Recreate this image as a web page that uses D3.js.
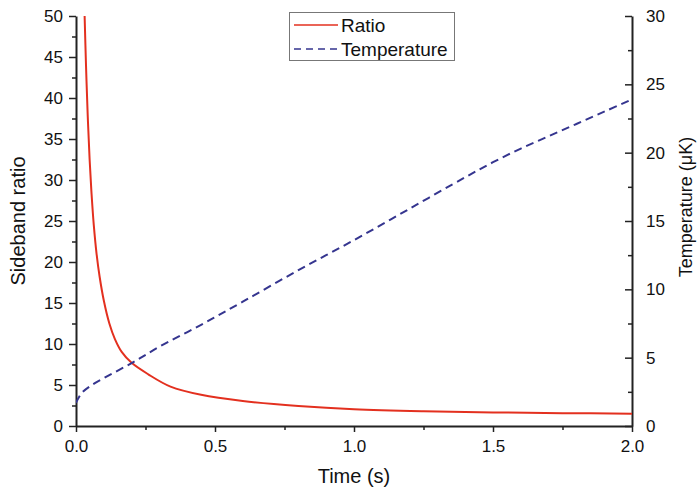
<!DOCTYPE html>
<html>
<head>
<meta charset="utf-8">
<script src="https://cdn.jsdelivr.net/npm/d3@7"></script>
<style>
  html, body { margin: 0; padding: 0; background: #fff; }
  svg { display: block; font-family: "Liberation Sans", Arial, Helvetica, sans-serif; }
</style>
</head>
<body>
<svg id="chart" width="697" height="488"></svg>
<script>
// ---- data ----
const ratioTime  = [0.031, 0.036, 0.042, 0.049, 0.056, 0.064, 0.074, 0.085, 0.1, 0.12, 0.14, 0.165, 0.2, 0.26, 0.34, 0.45, 0.6, 0.8, 1.0, 1.25, 1.5, 1.75, 2.0];
const ratioValue = [50, 44, 38, 32.5, 28.3, 24.5, 21, 18.2, 15.3, 12.5, 10.6, 9.0, 7.7, 6.3, 4.8, 3.8, 3.05, 2.45, 2.05, 1.8, 1.66, 1.57, 1.5];
const tempTime   = [0, 0.02, 0.05, 0.1, 0.2, 0.3, 0.45, 0.6, 0.8, 1.0, 1.2, 1.4, 1.5, 1.6, 1.7, 1.8, 1.9, 2.0];
const tempValue  = [1.7, 2.4, 2.9, 3.5, 4.6, 5.8, 7.4, 9.1, 11.4, 13.6, 15.9, 18.2, 19.3, 20.3, 21.2, 22.1, 23.0, 23.9];
const xTicks      = [0, 0.5, 1.0, 1.5, 2.0];
const xMinorTicks = [0.25, 0.75, 1.25, 1.75];
const yLeftTicks  = [0, 5, 10, 15, 20, 25, 30, 35, 40, 45, 50];
const yRightTicks = [0, 5, 10, 15, 20, 25, 30];
const seriesNames = ["Ratio", "Temperature"];
const labels = { x: "Time (s)", yLeft: "Sideband ratio", yRight: "Temperature (μK)" };

// ---- layout ----
const svg = d3.select("#chart");
const m = { left: 76, right: 697 - 632, top: 16, bottom: 488 - 426 };
const W = 697, H = 488;
const x = d3.scaleLinear().domain([0, 2]).range([m.left, W - m.right]);
const yL = d3.scaleLinear().domain([0, 50]).range([H - m.bottom, m.top]);
const yR = d3.scaleLinear().domain([0, 30]).range([H - m.bottom, m.top]);

const axisColor = "#222";
const tickFont = 17;

svg.append("defs").append("clipPath").attr("id", "clip")
  .append("rect").attr("x", m.left).attr("y", m.top)
  .attr("width", x.range()[1] - m.left).attr("height", yL.range()[0] - m.top);

function styleAxis(g) {
  g.selectAll("path.domain").attr("stroke", axisColor).attr("stroke-width", 2);
  g.selectAll(".tick line").attr("stroke", axisColor).attr("stroke-width", 1.5);
  g.selectAll(".tick text").attr("fill", "#111").style("font-size", tickFont + "px")
    .style("font-family", '"Liberation Sans", Arial, sans-serif');
}

// bottom axis
const gx = svg.append("g").attr("transform", `translate(0,${yL.range()[0]})`)
  .call(d3.axisBottom(x).tickValues(xTicks).tickFormat(d3.format(".1f")).tickSize(6).tickSizeOuter(0).tickPadding(8));
styleAxis(gx);
svg.append("g").attr("transform", `translate(0,${yL.range()[0]})`)
  .call(d3.axisBottom(x).tickValues(xMinorTicks).tickFormat("").tickSize(4).tickSizeOuter(0))
  .call(g => { g.select(".domain").remove(); g.selectAll("line").attr("stroke", axisColor).attr("stroke-width", 1.5); });

// left axis
const gyl = svg.append("g").attr("transform", `translate(${m.left},0)`)
  .call(d3.axisLeft(yL).tickValues(yLeftTicks).tickFormat(d3.format("d")).tickSize(7).tickSizeOuter(0).tickPadding(6));
styleAxis(gyl);
svg.append("g").attr("transform", `translate(${m.left},0)`)
  .call(d3.axisLeft(yL).tickValues(yLeftTicks.slice(0, -1).map(d => d + 2.5)).tickFormat("").tickSize(4).tickSizeOuter(0))
  .call(g => { g.select(".domain").remove(); g.selectAll("line").attr("stroke", axisColor).attr("stroke-width", 1.5); });

// right axis (ticks pointing inward)
const xr = x.range()[1];
const gyr = svg.append("g").attr("transform", `translate(${xr},0)`)
  .call(d3.axisRight(yR).tickValues(yRightTicks).tickFormat(d3.format("d")).tickSize(-7).tickSizeOuter(0).tickPadding(14));
styleAxis(gyr);
svg.append("g").attr("transform", `translate(${xr},0)`)
  .call(d3.axisRight(yR).tickValues(yRightTicks.slice(0, -1).map(d => d + 2.5)).tickFormat("").tickSize(-4).tickSizeOuter(0))
  .call(g => { g.select(".domain").remove(); g.selectAll("line").attr("stroke", axisColor).attr("stroke-width", 1.5); });

// ---- lines ----
const ratioData = ratioTime.map((t, i) => [t, ratioValue[i]]);
const tempData = tempTime.map((t, i) => [t, tempValue[i]]);

const ratioColor = "#e3301f";
const tempColor = "#35358f";

svg.append("path").datum(ratioData)
  .attr("clip-path", "url(#clip)")
  .attr("fill", "none").attr("stroke", ratioColor).attr("stroke-width", 2)
  .attr("d", d3.line().x(d => x(d[0])).y(d => yL(d[1])).curve(d3.curveCatmullRom.alpha(0.5)));

svg.append("path").datum(tempData)
  .attr("clip-path", "url(#clip)")
  .attr("fill", "none").attr("stroke", tempColor).attr("stroke-width", 2)
  .attr("stroke-dasharray", "8,5")
  .attr("d", d3.line().x(d => x(d[0])).y(d => yR(d[1])).curve(d3.curveCatmullRom.alpha(0.5)));

// ---- axis titles ----
svg.append("text").attr("x", (m.left + xr) / 2).attr("y", 483)
  .attr("text-anchor", "middle").style("font-size", "20px").attr("fill", "#111").text(labels.x);
svg.append("text").attr("transform", `translate(25,${(m.top + yL.range()[0]) / 2}) rotate(-90)`)
  .attr("text-anchor", "middle").style("font-size", "20px").attr("fill", "#111").text(labels.yLeft);
svg.append("text").attr("transform", `translate(692,207) rotate(-90)`)
  .attr("text-anchor", "middle").style("font-size", "18px").attr("fill", "#111").text(labels.yRight);

// ---- legend ----
const lg = svg.append("g");
lg.append("rect").attr("x", 289.5).attr("y", 12.5).attr("width", 165).attr("height", 48)
  .attr("fill", "#fff").attr("stroke", "#777").attr("stroke-width", 1);
const legendItems = [
  { name: seriesNames[0], color: ratioColor, dash: null, y: 25 },
  { name: seriesNames[1], color: tempColor, dash: "7,5", y: 49 }
];
legendItems.forEach(it => {
  lg.append("line").attr("x1", 294).attr("x2", 338).attr("y1", it.y).attr("y2", it.y)
    .attr("stroke", it.color).attr("stroke-width", 1.5)
    .attr("stroke-dasharray", it.dash);
  lg.append("text").attr("x", 341).attr("y", it.y).attr("dy", "0.36em")
    .style("font-size", "19px").attr("fill", "#111").text(it.name);
});
</script>
</body>
</html>
